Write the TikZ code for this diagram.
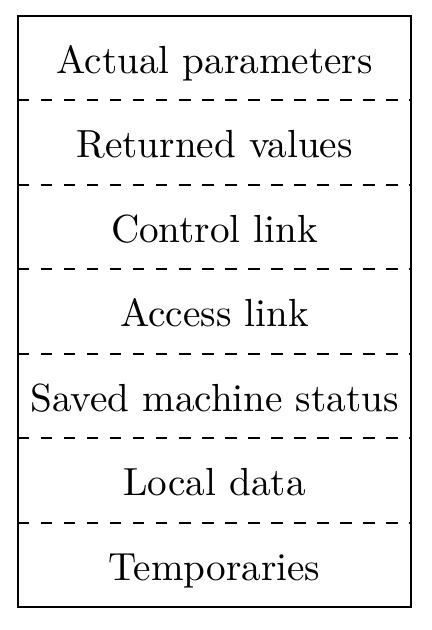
\documentclass[tikz,border=0pt]{standalone}
\usetikzlibrary{calc, chains, positioning}

\begin{document}
\begin{tikzpicture}[start chain = going below, node distance = 0pt,
   field/.style = {on chain, minimum width = 102.1pt, minimum height = 21.6pt,
                   inner sep = 0pt, text height = 8pt, text depth = 0pt,
                   font = \fontsize{10.2pt}{12pt}\selectfont}]
   \node[field]  (act) {Actual parameters};
   \node[field]  (ret) {Returned values};
   \node[field]  (ctl) {Control link};
   \node[field]  (acc) {Access link};
   \node[field]  (sav) {Saved machine status};
   \node[field]  (loc) {Local data};
   \node[field]  (tmp) {Temporaries};

   \useasboundingbox ($(act.north west)+(-4.6pt,4.1pt)$) rectangle ($(tmp.south east)+(5.1pt,-5.9pt)$);
   \draw[line width = 0.5pt] (act.north west) rectangle (tmp.south east);
   \foreach \a in {act, ret, ctl, acc, sav, loc}
      \draw[dashed, line width = 0.45pt] (\a.south west) -- (\a.south east);
\end{tikzpicture}
\end{document}
